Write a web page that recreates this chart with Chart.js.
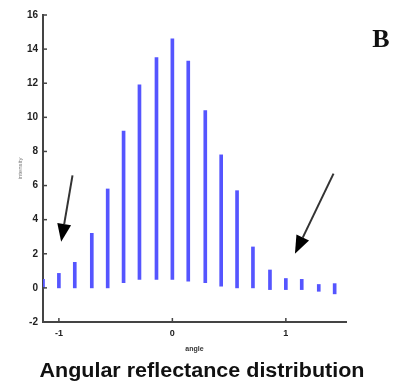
<!DOCTYPE html>
<html>
<head>
<meta charset="utf-8">
<script src="https://cdn.jsdelivr.net/npm/chart.js@4"></script>
<style>
  html, body { margin: 0; padding: 0; background: #fff; }
  #wrap { width: 398px; height: 388px; }
</style>
</head>
<body>
<div id="wrap"><canvas id="reflectChart"></canvas></div>
<script>
// angle of each stem and its low / high ends
const angles = [-1.14, -1, -0.86, -0.71, -0.57, -0.43, -0.29, -0.14, 0, 0.14, 0.29, 0.43, 0.57, 0.71, 0.86, 1, 1.14, 1.29, 1.43];
const highValues = [0.5, 0.85, 1.5, 3.2, 5.8, 9.2, 11.9, 13.5, 14.6, 13.3, 10.4, 7.8, 5.7, 2.4, 1.05, 0.55, 0.5, 0.2, 0.25];
const lowValues = [0, 0, 0, 0, 0, 0.3, 0.5, 0.5, 0.5, 0.4, 0.3, 0.1, 0, 0, -0.1, -0.1, -0.1, -0.2, -0.35];

const xTickValues = [-1, 0, 1];
const panelLabel = 'B';
const chartTitle = 'Angular reflectance distribution';

// arrows in data units: [fromX, fromY, toX, toY]
const arrows = [
    [-0.88, 6.6, -0.98, 2.7],
    [1.42, 6.7, 1.08, 2.0]
];

const stems = angles.map((a, i) => ({ x: a, y: [lowValues[i], highValues[i]] }));

// inward tick marks, arrows, panel letter and the caption
const extras = {
    id: 'extras',
    afterDraw(chart) {
        const ctx = chart.ctx;
        const xs = chart.scales.x;
        const ys = chart.scales.y;
        const area = chart.chartArea;

        ctx.save();
        ctx.strokeStyle = '#444';
        ctx.lineWidth = 1.5;
        ys.ticks.forEach(t => {
            const py = ys.getPixelForValue(t.value);
            ctx.beginPath();
            ctx.moveTo(area.left, py);
            ctx.lineTo(area.left + 4, py);
            ctx.stroke();
        });
        xs.ticks.forEach(t => {
            const px = xs.getPixelForValue(t.value);
            ctx.beginPath();
            ctx.moveTo(px, area.bottom);
            ctx.lineTo(px, area.bottom - 4);
            ctx.stroke();
        });

        arrows.forEach(a => {
            const x1 = xs.getPixelForValue(a[0]);
            const y1 = ys.getPixelForValue(a[1]);
            const x2 = xs.getPixelForValue(a[2]);
            const y2 = ys.getPixelForValue(a[3]);
            const ang = Math.atan2(y2 - y1, x2 - x1);
            const headLen = 18;
            const headW = 7;
            const bx = x2 - headLen * Math.cos(ang);
            const by = y2 - headLen * Math.sin(ang);
            ctx.strokeStyle = '#333';
            ctx.lineWidth = 2;
            ctx.beginPath();
            ctx.moveTo(x1, y1);
            ctx.lineTo(bx, by);
            ctx.stroke();
            ctx.fillStyle = '#000';
            ctx.beginPath();
            ctx.moveTo(x2, y2);
            ctx.lineTo(bx + headW * Math.sin(ang), by - headW * Math.cos(ang));
            ctx.lineTo(bx - headW * Math.sin(ang), by + headW * Math.cos(ang));
            ctx.closePath();
            ctx.fill();
        });

        ctx.fillStyle = '#111';
        ctx.font = 'bold 26px "Liberation Serif"';
        ctx.textAlign = 'center';
        ctx.textBaseline = 'middle';
        ctx.fillText(panelLabel, 381, 40);

        // caption, a bit wider than the font gives
        ctx.font = 'bold 20px "Liberation Sans"';
        ctx.textBaseline = 'alphabetic';
        const w = ctx.measureText(chartTitle).width;
        ctx.translate(202, 377);
        ctx.scale(325 / w, 1);
        ctx.fillText(chartTitle, 0, 0);
        ctx.restore();
    }
};

const ctx = document.getElementById('reflectChart').getContext('2d');
const reflectChart = new Chart(ctx, {
    type: 'bar',
    data: {
        datasets: [{
            label: 'reflectance',
            data: stems,
            backgroundColor: 'rgb(85, 85, 255)',
            barThickness: 3,
            borderSkipped: false
        }]
    },
    options: {
        responsive: true,
        maintainAspectRatio: false,
        animation: false,
        layout: {
            padding: { left: 0, right: 52, top: 15, bottom: 0 }
        },
        plugins: {
            legend: { display: false },
            tooltip: { enabled: false },
            title: { display: false }
        },
        scales: {
            x: {
                type: 'linear',
                offset: false,
                min: -1.14,
                max: 1.53,
                afterBuildTicks: scale => {
                    scale.ticks = xTickValues.map(v => ({ value: v }));
                },
                afterFit: scale => { scale.height = 66; },
                grid: { display: false, drawTicks: false },
                border: { display: true, color: '#444', width: 2 },
                ticks: {
                    padding: 6,
                    color: '#222',
                    font: { family: '"Liberation Sans"', size: 9, weight: 'bold' }
                },
                title: {
                    display: true,
                    text: 'angle',
                    color: '#333',
                    font: { family: '"Liberation Sans"', size: 7, weight: 'bold' },
                    padding: { top: 0, bottom: 35 }
                }
            },
            y: {
                type: 'linear',
                min: -2,
                max: 16,
                afterFit: scale => { scale.width = 43; },
                grid: { display: false, drawTicks: false },
                border: { display: true, color: '#444', width: 2 },
                ticks: {
                    stepSize: 2,
                    padding: 5,
                    color: '#222',
                    font: { family: '"Liberation Sans"', size: 10, weight: 'bold' }
                },
                title: {
                    display: true,
                    text: 'intensity',
                    color: '#777',
                    font: { family: '"Liberation Sans"', size: 6 },
                    padding: { top: 17, bottom: 0 }
                }
            }
        }
    },
    plugins: [extras]
});
</script>
</body>
</html>
